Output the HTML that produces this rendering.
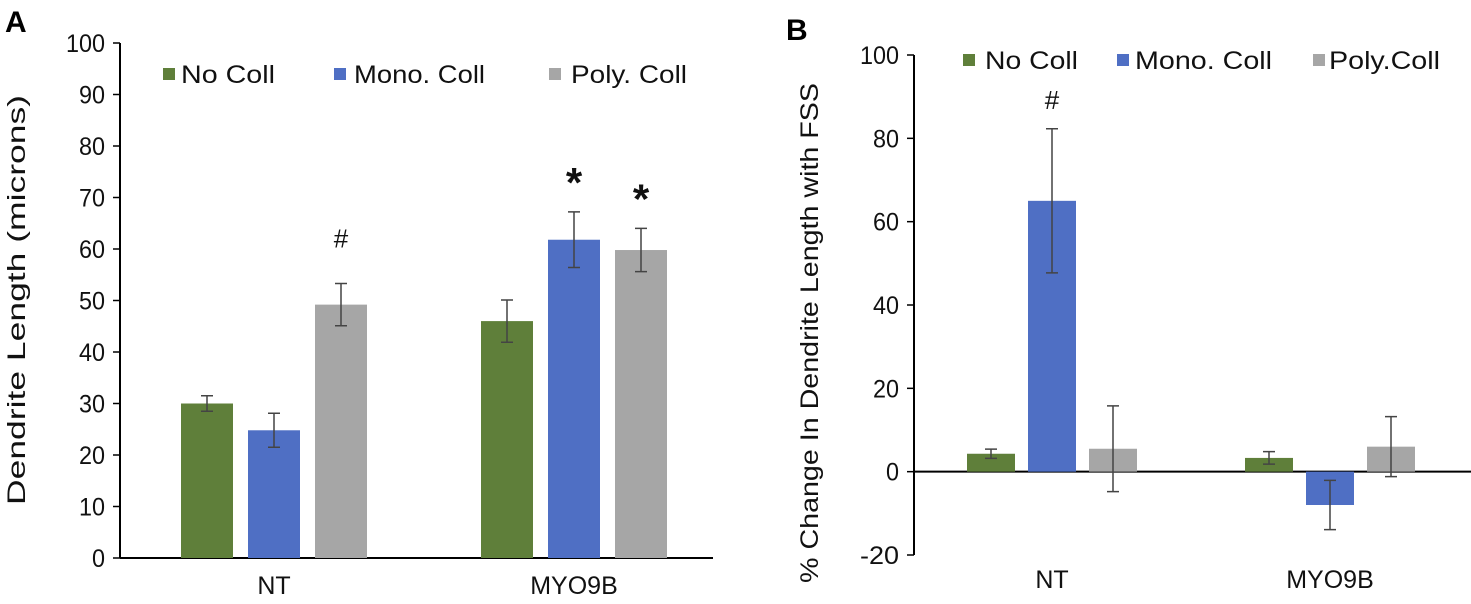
<!DOCTYPE html>
<html><head><meta charset="utf-8"><style>
html,body{margin:0;padding:0;background:#fff;}
svg{display:block;font-family:"Liberation Sans",Arial,sans-serif;}
</style></head><body>
<svg id="chart" width="1471" height="604" viewBox="0 0 1471 604" xmlns="http://www.w3.org/2000/svg">
<text x="5" y="32" font-size="30" font-weight="bold">A</text>
<text x="786" y="40" font-size="30" font-weight="bold">B</text>
<g id="pa"></g>
<g id="pb"></g>
</svg>
<script>
const categories = ["NT", "MYO9B"];
const seriesNames = ["No Coll", "Mono. Coll", "Poly. Coll"];
const seriesNamesB = ["No Coll", "Mono. Coll", "Poly.Coll"];
const colors = ["#5f7f3a", "#4f6fc4", "#a6a6a6"];
const aValues = [[30, 46], [24.8, 61.8], [49.2, 59.8]];
const aErrors = [[1.5, 4.1], [3.3, 5.4], [4.1, 4.2]];
const aTicks = [0, 10, 20, 30, 40, 50, 60, 70, 80, 90, 100];
const aMarks = [["", ""], ["", "*"], ["#", "*"]];
const bValues = [[4.3, 3.3], [65, -8], [5.5, 6]];
const bErrors = [[1.1, 1.5], [17.3, 5.9], [10.3, 7.2]];
const bTicks = [-20, 0, 20, 40, 60, 80, 100];
const bMarks = [["", ""], ["#", ""], ["", ""]];

const NS = "http://www.w3.org/2000/svg";
function mk(parent, tag, attrs, text) {
  const e = document.createElementNS(NS, tag);
  for (const k in attrs) e.setAttribute(k, attrs[k]);
  if (text !== undefined) e.textContent = text;
  parent.appendChild(e);
  return e;
}

function drawPanel(g, cfg) {
  const y = v => cfg.y0 + (v - cfg.vmin) / (cfg.vmax - cfg.vmin) * (cfg.y1 - cfg.y0);
  const ax = mk(g, "line", {x1: cfg.axX, x2: cfg.axX, y1: y(cfg.vmin), y2: y(cfg.vmax), stroke: "#000", "stroke-width": 2});
  
  
  cfg.ticks.forEach(t => {
    const tk = mk(g, "line", {x1: cfg.axX - 7, x2: cfg.axX, y1: y(t), y2: y(t), stroke: "#000", "stroke-width": 1.5});
    
    
    const tl = mk(g, "text", {x: cfg.axX - 15, y: y(t) + 9, "font-size": 25, "text-anchor": "end", fill: "#111",
      textLength: String(t).length * 13, lengthAdjust: "spacingAndGlyphs"}, String(t));
    
    
  });
  const base = y(0);
  const xl = mk(g, "line", {x1: cfg.axX, x2: cfg.xEnd, y1: base, y2: base, stroke: "#000", "stroke-width": 2});
  
  
  const title = mk(g, "text", {x: 0, y: 0, "font-size": 25, "text-anchor": "middle", fill: "#111",
    textLength: cfg.titleLen, lengthAdjust: "spacingAndGlyphs",
    transform: `translate(${cfg.titleX},${cfg.titleY}) rotate(-90)`}, cfg.title);
  
  
  categories.forEach((c, ci) => {
    const cx = cfg.catX[ci];
    const cl = mk(g, "text", {x: cx, y: cfg.catY, "font-size": 25, "text-anchor": "middle", fill: "#111"}, c);
    
    
    cfg.values.forEach((ser, si) => {
      const v = ser[ci], e = cfg.errors[si][ci];
      const bx = cx + (si - 1) * cfg.step - cfg.bw / 2;
      const top = Math.min(y(v), base), h = Math.abs(y(v) - base);
      const r = mk(g, "rect", {x: bx, y: top, width: cfg.bw, height: h, fill: colors[si]});
      
      
      const mx = bx + cfg.bw / 2;
      const eb = mk(g, "path", {d: `M${mx},${y(v + e)}V${y(v - e)}M${mx - 6},${y(v + e)}H${mx + 6}M${mx - 6},${y(v - e)}H${mx + 6}`,
        stroke: "#444", "stroke-width": 1.5, fill: "none"});
      
      
      const m = cfg.marks[si][ci];
      if (m) {
        const star = m === "*";
        const mt = mk(g, "text", {x: mx, y: y(v + e) - (star ? cfg.starOff : cfg.hashOff), "font-size": star ? 42 : 26,
          "font-weight": star ? "bold" : "normal", "text-anchor": "middle", fill: "#111"}, m);
        
        
      }
    });
  });
  cfg.legend.forEach((L, i) => {
    const sq = mk(g, "rect", {x: L[0], y: cfg.legY - 6, width: 12, height: 12, fill: colors[i]});
    
    
    const lt = mk(g, "text", {x: L[1], y: cfg.legY + 9, "font-size": 25, fill: "#111",
      textLength: L[2], lengthAdjust: "spacingAndGlyphs"}, cfg.names[i]);
    
    
  });
}

drawPanel(document.getElementById("pa"), {
  vmin: 0, vmax: 100, y0: 558, y1: 43, axX: 120, xEnd: 713, ticks: aTicks,
  values: aValues, errors: aErrors, marks: aMarks, catX: [274, 574], step: 67, bw: 52, catY: 594,
  title: "Dendrite  Length  (microns)", titleX: 25, titleY: 300, titleLen: 410,
  hashOff: 36, starOff: 15,
  legY: 74, legend: [[163, 181, 94], [334, 354, 131], [549, 571, 116]], names: seriesNames
});
drawPanel(document.getElementById("pb"), {
  vmin: -20, vmax: 100, y0: 555, y1: 55, axX: 914, xEnd: 1471, ticks: bTicks,
  values: bValues, errors: bErrors, marks: bMarks, catX: [1052, 1330], step: 61, bw: 48, catY: 588,
  title: "% Change In Dendrite Length with FSS", titleX: 818, titleY: 333, titleLen: 500,
  hashOff: 20, starOff: 15,
  legY: 60, legend: [[963, 985, 93], [1117, 1135, 137], [1313, 1329, 111]], names: seriesNamesB
});
</script>
</body></html>
